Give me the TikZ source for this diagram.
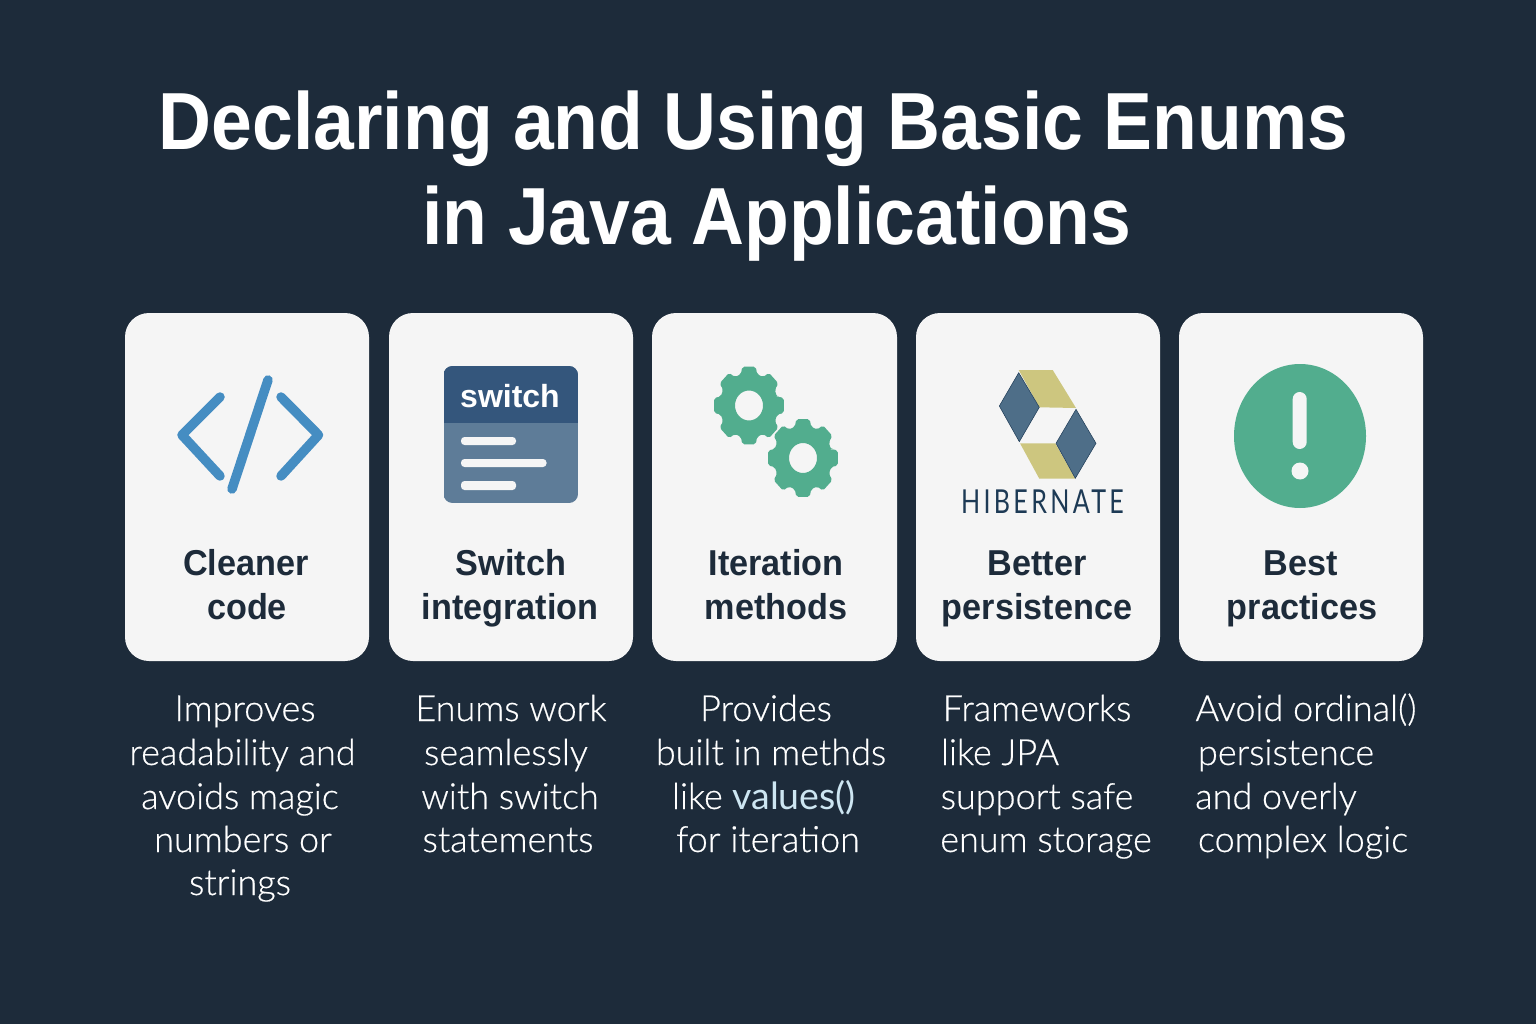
\documentclass[tikz,border=0pt]{standalone}
\usepackage{fontspec}
\setmainfont{Liberation Sans}
\newfontfamily\titlefont[FakeStretch=0.905]{Liberation Sans Bold}
\newfontfamily\bodyfont[FakeBold=0.5]{Lato Light}
\newfontfamily\valfont{Lato}
\newfontfamily\headfont[FakeStretch=0.95]{Liberation Sans Bold}
\newfontfamily\logofont[FakeStretch=0.76,LetterSpace=10]{Lato}
\definecolor{bgc}{HTML}{1D2B3A}
\definecolor{cardc}{HTML}{F5F5F5}
\definecolor{inkc}{HTML}{1D2B3A}
\definecolor{bluec}{HTML}{458DC2}
\definecolor{greenc}{HTML}{52AD8E}
\definecolor{headc}{HTML}{34567C}
\definecolor{panelc}{HTML}{5E7C98}
\definecolor{hibblue}{HTML}{4E6E88}
\definecolor{hibyel}{HTML}{CDC67F}
\definecolor{hibink}{HTML}{1D3A55}
\definecolor{valc}{HTML}{CDE6F2}
\tikzset{
  card/.style={fill=cardc,draw=none,rounded corners=24pt},
  titleline/.style={anchor=base,text=white,font=\fontsize{81}{90}\titlefont},
  headline/.style={anchor=base,text=inkc,font=\fontsize{36}{40}\headfont},
  bodyline/.style={anchor=base,text=white,font=\fontsize{36}{40}\bodyfont},
  codeline/.style={draw=bluec,line width=9.5pt,line cap=round,line join=round},
  barline/.style={fill=cardc,rounded corners=3.5pt},
  hibb/.style={fill=hibblue,draw=hibink,line width=.5pt},
  hiby/.style={fill=hibyel},
}
\newcommand{\gearpath}[2]{% centre x, y
  \fill[greenc,even odd rule,rounded corners=2pt]
    ({#1+29*cos(-16)},{#2+32*sin(-16)})
    \foreach \a in {0,45,...,315}{
      -- ({#1+29.5*cos(\a-16)},{#2+32.5*sin(\a-16)})
      -- ({#1+35.5*cos(\a-11)},{#2+39.5*sin(\a-11)})
      -- ({#1+35.5*cos(\a+11)},{#2+39.5*sin(\a+11)})
      -- ({#1+29.5*cos(\a+16)},{#2+32.5*sin(\a+16)})
    } -- cycle
    (#1,#2) ellipse[x radius=14,y radius=15];
}
\begin{document}
\begin{tikzpicture}[x=1pt,y=-1pt]
\useasboundingbox (0,0) rectangle (1536,1024);
\fill[bgc] (0,0) rectangle (1536,1024);
\node[titleline] (t1) at (753.5,150) {Declaring and Using Basic Enums};
\node[titleline] (t2) at (777,245) {in Java Applications};
% cards
\fill[card] (125,313) rectangle (369,661);
\fill[card] (389,313) rectangle (633,661);
\fill[card] (652,313) rectangle (897,661);
\fill[card] (916,313) rectangle (1160,661);
\fill[card] (1179,313) rectangle (1423,661);
% code icon
\draw[codeline] (220,397) -- (182,435) -- (220,476);
\draw[codeline] (281,397) -- (318.5,435) -- (281,476);
\draw[codeline] (268,380) -- (232,489);
% switch icon
\begin{scope}
\clip[rounded corners=9pt] (443.5,366) rectangle (578,503);
\fill[panelc] (443.5,366) rectangle (578,503);
\fill[headc] (443.5,366) rectangle (578,423);
\end{scope}
\node[anchor=base,text=white,font=\fontsize{32}{36}\selectfont\bfseries] (sw) at (510,407) {switch};
\fill[barline] (461,437) rectangle (516,445);
\fill[barline] (461,459) rectangle (546.5,467);
\fill[barline] (461,481) rectangle (516,490);
% gears
\gearpath{749}{405.5}
\gearpath{803}{458}
% hibernate
\fill[hiby] (1018.7,370) -- (1052.7,370) -- (1076,408) -- (1039.3,407.3) -- cycle;
\fill[hiby] (1020,443.3) -- (1055.3,443.3) -- (1075.3,478.7) -- (1039.3,478.7) -- cycle;
\fill[hibb] (1018.7,372.7) -- (1039.3,407.3) -- (1019.3,441.7) -- (999.3,406) -- cycle;
\fill[hibb] (1076,409.3) -- (1096,443.3) -- (1075.3,478.3) -- (1056,443.3) -- cycle;
\node[anchor=base,text=hibink,font=\fontsize{33}{36}\logofont] (hib) at (1042.5,513) {HIBERNATE};
% alert
\fill[greenc] (1300,436) ellipse[x radius=66,y radius=72];
\fill[cardc,rounded corners=7pt] (1292.7,392) rectangle (1306.7,449);
\fill[cardc] (1300,471) circle[radius=8.5];
% card headings
\node[headline] (h1a) at (246,575) {Cleaner};
\node[headline] (h1b) at (247,619) {code};
\node[headline] (h2a) at (511,575) {Switch};
\node[headline] (h2b) at (510,619) {integration};
\node[headline] (h3a) at (776,575) {Iteration};
\node[headline] (h3b) at (776,619) {methods};
\node[headline] (h4a) at (1037,575) {Better};
\node[headline] (h4b) at (1037,619) {persistence};
\node[headline] (h5a) at (1301,575) {Best};
\node[headline] (h5b) at (1302,619) {practices};
% body lines
\node[bodyline] (b11) at (245,721) {Improves};
\node[bodyline] (b12) at (242.5,765) {readability and};
\node[bodyline] (b13) at (240,809) {avoids magic};
\node[bodyline] (b14) at (243,852) {numbers or};
\node[bodyline] (b15) at (240,895) {strings};
\node[bodyline] (b21) at (511,721) {Enums work};
\node[bodyline] (b22) at (506,765) {seamlessly};
\node[bodyline] (b23) at (510,809) {with switch};
\node[bodyline] (b24) at (508,852) {statements};
\node[bodyline] (b31) at (766,721) {Provides};
\node[bodyline] (b32) at (771,765) {built in methds};
\node[bodyline] (b33) at (764,809) {like \textcolor{valc}{\fontsize{37.5}{40}\valfont values()}};
\node[bodyline] (b34) at (768,852) {for iteration};
\node[bodyline] (b41) at (1037,721) {Frameworks};
\node[bodyline] (b42) at (1000,765) {like JPA};
\node[bodyline] (b43) at (1037,809) {support safe};
\node[bodyline] (b44) at (1046,852) {enum storage};
\node[bodyline] (b51) at (1306,721) {Avoid ordinal()};
\node[bodyline] (b52) at (1286,765) {persistence};
\node[bodyline] (b53) at (1276,809) {and overly};
\node[bodyline] (b54) at (1303,852) {complex logic};
\end{tikzpicture}
\end{document}
